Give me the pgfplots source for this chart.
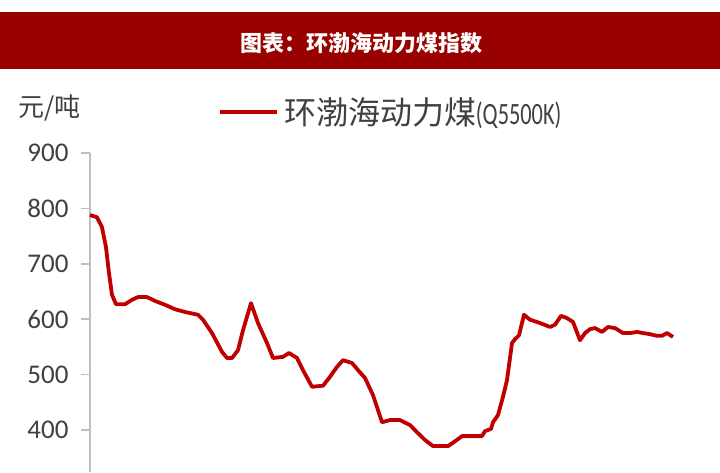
\documentclass[border=0pt]{standalone}
\usepackage{fontspec}
\setmainfont{Carlito}
\newfontfamily\cjk{Noto Sans CJK SC}
\usepackage{graphicx}
\usepackage{pgfplots}
\pgfplotsset{compat=1.18}
\definecolor{banner}{HTML}{990000}
\definecolor{coal}{HTML}{C00000}
\definecolor{txt}{HTML}{404040}
\definecolor{axgray}{HTML}{BFBFBF}
\begin{document}
\begin{tikzpicture}[x=1pt,y=1pt]
% page frame, 720 x 472
\path[use as bounding box] (0,0) rectangle (720,472);
\fill[banner] (0,403) rectangle (720,460);
\node[text=white, font=\cjk\bfseries\fontsize{22}{22}\selectfont] at (361,429) {图表：环渤海动力煤指数};
\node[anchor=west, inner sep=0pt, text=txt, font=\cjk\fontsize{26}{26}\selectfont] at (18,364) {元/吨};

\begin{axis}[
    at={(90pt,319pt)}, anchor=north west,
    scale only axis, width=610pt, height=319pt,
    xmin=0, xmax=610, ymin=324.2, ymax=900,
    axis y line*=left, axis x line=none,
    axis line style={axgray, line width=1.5pt},
    ytick={400,500,...,900},
    tick align=outside, major tick length=9pt,
    tick style={axgray, line width=1.5pt},
    /pgf/number format/assume math mode=true,
    yticklabel style={text=txt, font=\fontsize{27}{27}\selectfont, xshift=-9pt},
    clip=false,
    legend style={at={(axis description cs:0.2098,1.1285)}, anchor=west,
        draw=none, fill=none, inner sep=0pt, text=txt,
        font=\fontsize{23}{23}\selectfont,
        nodes={inner xsep=6pt, inner ysep=0pt}},
    legend image code/.code={\draw[#1] (0pt,0pt) -- (57pt,0pt);},
]
\addplot[coal, line width=3.8pt, line join=round] coordinates {
(0,788) (7,784) (12,766) (16,730) (19,683) (22,644) (26,627) (35,627)
(42,635) (48,640) (57,640) (65,633) (75,626) (85,618) (95,613) (108,608)
(113,599) (122,575) (132,541) (137,530) (142,530) (148,544) (153,580) (161,629)
(168,593) (177,557) (183,530) (193,532) (199,539) (207,530) (213,508) (222,478)
(233,480) (240,496) (247,514) (253,526) (262,521) (268,508) (275,494) (283,463)
(292,414) (300,418) (310,418) (320,409) (327,396) (335,382) (343,371) (358,371)
(363,377) (372,389) (392,389) (395,398) (401,402) (403,414) (408,427) (413,460)
(417,490) (422,557) (425,564) (429,571) (434,608) (440,599) (447,595) (453,591)
(460,586) (465,590) (471,606) (477,602) (483,595) (490,562) (495,575) (500,582)
(505,584) (512,577) (518,586) (525,584) (533,575) (540,575) (547,577) (553,575)
(560,573) (567,570) (572,570) (577,575) (583,568)
};
\addlegendentry{{\cjk\fontsize{32}{32}\selectfont 环渤海动力煤}\kern-1pt\scalebox{0.72}[1]{\fontsize{31}{31}\selectfont(Q5500K)}}
\end{axis}
\end{tikzpicture}
\end{document}
